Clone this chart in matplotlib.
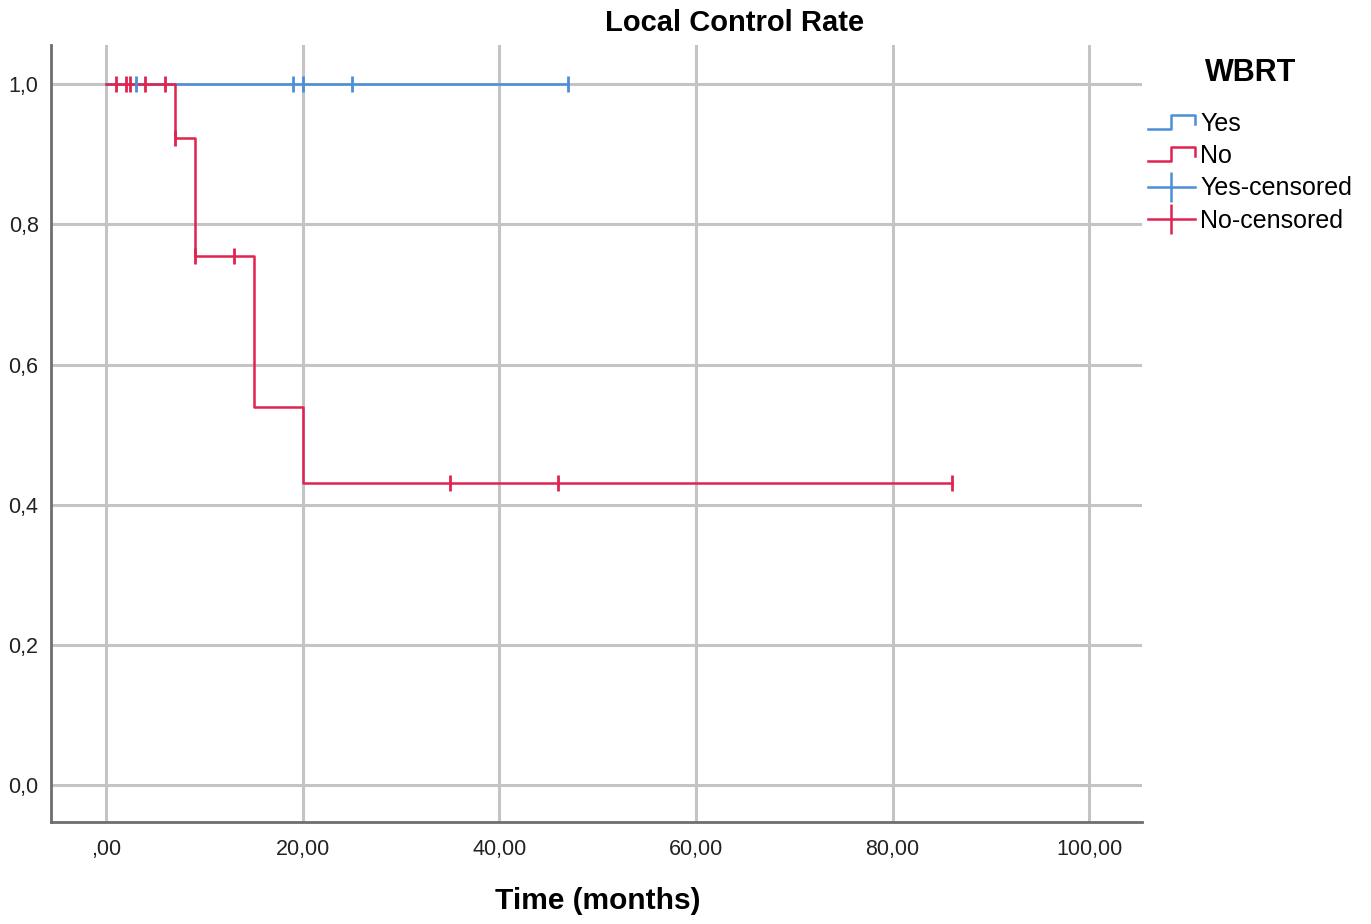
import numpy as np
import matplotlib
matplotlib.use("Agg")
from matplotlib import pyplot as plt
from matplotlib.lines import Line2D
from matplotlib.legend_handler import HandlerLine2D

plt.rcParams['font.family'] = ['Liberation Sans', 'DejaVu Sans']

# Kaplan-Meier steps
yes_times = [0, 47]
yes_surv = [1.0, 1.0]
yes_censored = [3, 19, 20, 25, 47]

no_times = [0, 7, 9, 15, 20, 86]
no_surv = [1.0, 0.923, 0.755, 0.540, 0.431, 0.431]
no_censored_t = [1, 2, 2.4, 4, 6, 7, 9, 13, 35, 46, 86]

x_ticks = [0, 20, 40, 60, 80, 100]
x_labels = [",00", "20,00", "40,00", "60,00", "80,00", "100,00"]
y_ticks = [0.0, 0.2, 0.4, 0.6, 0.8, 1.0]
y_labels = ["0,0", "0,2", "0,4", "0,6", "0,8", "1,0"]

BLUE = '#4a8fd8'
RED = '#e0234f'


def surv_at(times, surv, t):
    idx = np.searchsorted(times, t, side='right') - 1
    return surv[idx]


class StepHandler(HandlerLine2D):
    def create_artists(self, legend, orig_handle, xdescent, ydescent,
                       width, height, fontsize, trans):
        x0 = -xdescent
        w = width
        yb = height * 0.1 - ydescent
        yt = height * 0.9 - ydescent
        xs = [x0, x0 + w * 0.5, x0 + w * 0.5, x0 + w, x0 + w]
        ys = [yb, yb, yt, yt, yb + (yt - yb) * 0.35]
        ln = Line2D(xs, ys, color=orig_handle.get_color(), lw=orig_handle.get_linewidth())
        ln.set_transform(trans)
        return [ln]


fig = plt.figure(figsize=(13.71, 9.24), dpi=100)
ax = fig.add_axes([0.0372, 0.110, 0.796, 0.841])

ax.step(yes_times, yes_surv, where='post', color=BLUE, lw=1.8, zorder=3)
ax.step(no_times, no_surv, where='post', color=RED, lw=1.8, zorder=3)

ax.plot(yes_censored, [surv_at(yes_times, yes_surv, t) for t in yes_censored],
        ls='none', marker='|', ms=11, mew=2, color=BLUE, zorder=4)
ax.plot(no_censored_t, [surv_at(no_times, no_surv, t) for t in no_censored_t],
        ls='none', marker='|', ms=11, mew=2, color=RED, zorder=4)

ax.set_xlim(-5.6, 105.4)
ax.set_ylim(-0.054, 1.056)
ax.set_xticks(x_ticks)
ax.set_xticklabels(x_labels, fontsize=15.5, color='#222222')
ax.set_yticks(y_ticks)
ax.set_yticklabels(y_labels, fontsize=15.5, color='#222222')
ax.tick_params(axis='x', length=0, pad=12)
ax.tick_params(axis='y', length=0, pad=9)
ax.grid(True, color='#c4c4c4', lw=2.2)
ax.set_axisbelow(True)
for s in ['top', 'right']:
    ax.spines[s].set_visible(False)
for s in ['left', 'bottom']:
    ax.spines[s].set_color('#6e6e6e')
    ax.spines[s].set_linewidth(2)

fig.text(0.536, 0.975, "Local Control Rate", ha='center', va='center',
         fontsize=21, fontweight='bold')
fig.text(0.436, 0.025, "Time (months)", ha='center', va='center',
         fontsize=21.5, fontweight='bold')
fig.text(0.912, 0.921, "WBRT", ha='center', va='center',
         fontsize=22, fontweight='bold')

handles = [
    Line2D([], [], color=BLUE, lw=1.8),
    Line2D([], [], color=RED, lw=1.8),
    Line2D([], [], color=BLUE, lw=1.8, marker='|', ms=22, mew=1.8),
    Line2D([], [], color=RED, lw=1.8, marker='|', ms=22, mew=1.8),
]
labels = ["Yes", "No", "Yes-censored", "No-censored"]
leg = fig.legend(handles, labels, loc='upper left', bbox_to_anchor=(0.837, 0.879),
                 frameon=False, fontsize=18,
                 handler_map={handles[0]: StepHandler(), handles[1]: StepHandler()},
                 handlelength=1.9, handletextpad=0.2, labelspacing=0.33,
                 borderaxespad=0, borderpad=0)

fig.savefig("out.png", dpi=100)
